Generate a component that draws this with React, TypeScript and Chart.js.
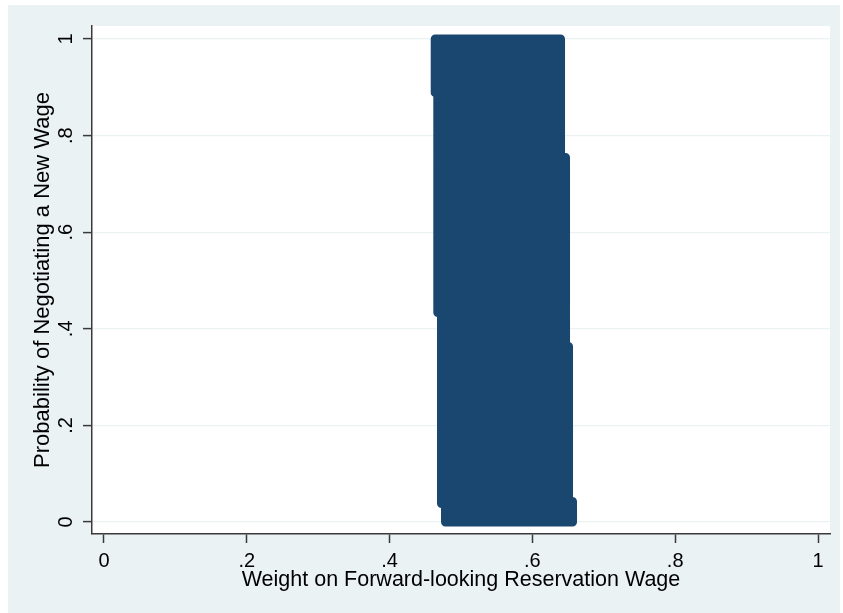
import React, { useEffect, useRef } from 'react';
import { Chart, registerables } from 'chart.js';

Chart.register(...registerables);

// Tick positions and labels (Stata style, no leading zero)
const xTickValues = [0, 0.2, 0.4, 0.6, 0.8, 1];
const xTickLabels = ['0', '.2', '.4', '.6', '.8', '1'];
const yTickValues = [0, 0.2, 0.4, 0.6, 0.8, 1];
const yTickLabels = ['0', '.2', '.4', '.6', '.8', '1'];

// Outline of the dense cloud of markers (weight, probability)
const cloudWeight = [0.4639, 0.6394, 0.6394, 0.6464, 0.6464, 0.6506, 0.6506, 0.6562, 0.6562, 0.4783, 0.4783, 0.4727, 0.4727, 0.4675, 0.4675, 0.4639, 0.4639];
const cloudProb = [1.0, 1.0, 0.7547, 0.7547, 0.3634, 0.3634, 0.0424, 0.0424, 0.0, 0.0, 0.0383, 0.0383, 0.4337, 0.4337, 0.889, 0.889, 1.0];

const xTitle = 'Weight on Forward-looking Reservation Wage';
const yTitle = 'Probability of Negotiating a New Wage';

const FONT = "'Liberation Sans', Arial, sans-serif";
const BG = '#EAF2F3';
const AXIS = '#3a3a3a';
const MARKER = '#1A476F';
const MARKER_RADIUS = 4.5;

const plotBg = {
  id: 'plotBg',
  beforeDraw(chart: any) {
    const { ctx, chartArea } = chart;
    ctx.save();
    ctx.fillStyle = '#ffffff';
    ctx.fillRect(chartArea.left, chartArea.top, chartArea.right - chartArea.left, chartArea.bottom - chartArea.top);
    ctx.restore();
  },
};

// Draws the cloud of overlapping markers as one shape, through the points Chart.js positioned
const cloudShape = {
  id: 'cloudShape',
  afterDatasetsDraw(chart: any) {
    const meta = chart.getDatasetMeta(0);
    const pts = meta.data;
    if (!pts || !pts.length) return;
    const { ctx } = chart;
    ctx.save();
    ctx.beginPath();
    pts.forEach((p: any, i: number) => {
      if (i === 0) ctx.moveTo(p.x, p.y);
      else ctx.lineTo(p.x, p.y);
    });
    ctx.closePath();
    ctx.fillStyle = MARKER;
    ctx.strokeStyle = MARKER;
    ctx.lineWidth = MARKER_RADIUS * 2;
    ctx.lineJoin = 'round';
    ctx.lineCap = 'round';
    ctx.fill();
    ctx.stroke();
    ctx.restore();
  },
};

export default function App() {
  const ref = useRef<HTMLCanvasElement | null>(null);

  useEffect(() => {
    if (!ref.current) return;
    const data = cloudWeight.map((w, i) => ({ x: w, y: cloudProb[i] }));
    const chart = new Chart(ref.current, {
      type: 'scatter',
      data: {
        datasets: [
          {
            data,
            showLine: false,
            backgroundColor: MARKER,
            borderColor: MARKER,
            pointRadius: 0,
            pointHoverRadius: 0,
          } as any,
        ],
      },
      options: {
        animation: false,
        responsive: false,
        devicePixelRatio: 1,
        layout: { padding: { left: 0, top: 21, right: 10, bottom: 0 } },
        plugins: {
          legend: { display: false },
          tooltip: { enabled: false },
        },
        scales: {
          x: {
            type: 'linear',
            min: -0.0168,
            max: 1.0168,
            afterBuildTicks: (s: any) => {
              s.ticks = xTickValues.map((v) => ({ value: v }));
            },
            afterFit: (s: any) => {
              s.height = 79;
            },
            ticks: {
              autoSkip: false,
              maxRotation: 0,
              minRotation: 0,
              padding: 6,
              color: '#000',
              font: { family: FONT, size: 20 },
              callback: (v: any) => {
                const i = xTickValues.indexOf(Number(v));
                return i >= 0 ? xTickLabels[i] : '';
              },
            },
            grid: {
              drawOnChartArea: false,
              drawTicks: true,
              tickLength: 9,
              tickColor: AXIS,
              tickWidth: 1.5,
            },
            border: { display: true, color: AXIS, width: 1.5 },
            title: {
              display: true,
              text: xTitle,
              color: '#000',
              font: { family: FONT, size: 21.5 },
              padding: { top: 0, bottom: 20 },
            },
          },
          y: {
            type: 'linear',
            min: -0.0248,
            max: 1.027,
            afterBuildTicks: (s: any) => {
              s.ticks = yTickValues.map((v) => ({ value: v }));
            },
            afterFit: (s: any) => {
              s.width = 84;
            },
            ticks: {
              autoSkip: false,
              minRotation: 90,
              maxRotation: 90,
              crossAlign: 'center',
              padding: 8,
              color: '#000',
              font: { family: FONT, size: 20 },
              callback: (v: any) => {
                const i = yTickValues.indexOf(Number(v));
                return i >= 0 ? yTickLabels[i] : '';
              },
            },
            grid: {
              drawOnChartArea: true,
              color: BG,
              lineWidth: 1.2,
              drawTicks: true,
              tickLength: 9,
              tickColor: AXIS,
              tickWidth: 1.5,
            },
            border: { display: true, color: AXIS, width: 1.5 },
            title: {
              display: true,
              text: yTitle,
              color: '#000',
              font: { family: FONT, size: 22 },
              padding: { top: 22, bottom: 0 },
            },
          },
        },
      } as any,
      plugins: [plotBg, cloudShape],
    });
    return () => chart.destroy();
  }, []);

  return (
    <div
      style={{
        position: 'absolute',
        left: 8,
        top: 5,
        width: 832,
        height: 608,
        background: BG,
      }}
    >
      <canvas ref={ref} width={832} height={608} style={{ display: 'block', width: 832, height: 608 }} />
    </div>
  );
}
